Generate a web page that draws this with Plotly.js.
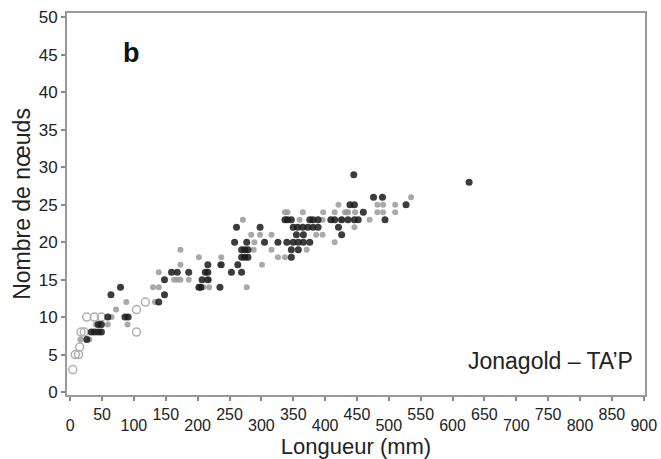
<!DOCTYPE html>
<html>
<head>
<meta charset="utf-8">
<script src="https://cdn.plot.ly/plotly-3.0.1.min.js"></script>
<style>html,body{margin:0;padding:0;background:#fff;}#chart{width:661px;height:459px;}</style>
</head>
<body>
<div id="chart"></div>
<script>
// Dark (dense) points
const darkX = [26,33,38,44,49,44,49,59,86,91,64,79,139,148,148,159,168,186,202,205,207,212,216,216,235,216,237,263,253,269,269,274,279,269,274,279,258,277,305,326,340,350,358,366,376,347,358,347,261,298,350,357,365,373,381,389,421,355,366,426,337,341,347,376,381,389,409,415,426,436,446,452,494,460,439,446,527,476,490,445,626];
const darkY = [7,8,8,8,8,9,9,10,10,10,13,14,12,13,15,16,16,16,14,14,15,16,16,17,14,15,17,17,16,16,18,18,18,19,19,19,20,20,20,20,20,20,20,20,20,19,19,18,22,22,22,22,22,22,22,22,22,21,21,21,23,23,23,23,23,23,23,23,23,23,23,23,23,24,25,25,25,26,26,29,28];
// Light (single) points
const lightX = [16,30,40,59,65,72,88,90,133,130,139,139,173,173,163,168,173,186,202,218,218,235,237,209,277,301,326,337,271,284,298,316,288,316,371,289,415,337,341,365,397,415,431,436,447,482,491,510,421,482,491,510,535,360,396,425,470,446,434,386,396];
const lightY = [7,7,9,9,10,11,12,9,12,14,14,16,19,17,15,15,15,15,18,15,14,17,18,14,14,17,18,18,23,21,21,21,19,19,19,20,20,24,24,24,24,24,24,24,24,24,24,24,25,25,25,25,26,23,23,23,23,22,24,21,21];
// Open circles
const openX = [4,8,13,15,17,22,26,38,49,104,104,118];
const openY = [3,5,5,6,8,8,10,10,10,11,8,12];

const xTicksUpper = [50,150,250,350,450,550,650,750,850];
const xTicksLower = [0,100,200,300,400,500,600,700,800,900];
const yTicks = [0,5,10,15,20,25,30,35,40,45,50];

const panelLabel = "b";
const cornerLabel = "Jonagold – TA’P";
const xTitle = "Longueur (mm)";
const yTitle = "Nombre de nœuds";

const FONT = "Liberation Sans, Arial, sans-serif";
const XR = [-5, 902];

const traces = [
  {x: openX, y: openY, type: "scatter", mode: "markers", xaxis: "x", yaxis: "y",
   marker: {symbol: "circle-open", size: 8, color: "#b0b0b0", line: {width: 1.5, color: "#b0b0b0"}}, hoverinfo: "skip"},
  {x: lightX, y: lightY, type: "scatter", mode: "markers", xaxis: "x", yaxis: "y",
   marker: {symbol: "circle", size: 6, color: "#9a9a9a", opacity: 0.85}, hoverinfo: "skip"},
  {x: darkX, y: darkY, type: "scatter", mode: "markers", xaxis: "x", yaxis: "y",
   marker: {symbol: "circle", size: 7, color: "#1a1a1a", opacity: 0.85}, hoverinfo: "skip"},
  // invisible trace to activate the second x axis (lower tick row)
  {x: [0], y: [0], type: "scatter", mode: "markers", xaxis: "x2", yaxis: "y",
   marker: {opacity: 0}, hoverinfo: "skip", showlegend: false}
];

const layout = {
  width: 661, height: 459,
  margin: {l: 67, r: 16, t: 13, b: 64},
  paper_bgcolor: "#fff", plot_bgcolor: "#fff",
  showlegend: false,
  font: {family: FONT, color: "#222"},
  xaxis: {
    range: XR, showgrid: false, zeroline: false,
    showline: true, mirror: true, linecolor: "#999", linewidth: 2,
    ticks: "outside", ticklen: 4, tickcolor: "#888", tickwidth: 2,
    tickmode: "array",
    tickvals: xTicksLower.concat(xTicksUpper),
    ticktext: xTicksLower.map(() => "").concat(xTicksUpper.map(String)),
    tickfont: {size: 16, family: FONT, color: "#222"},
    title: {text: xTitle, font: {size: 22, family: FONT, color: "#222"}, standoff: 19}
  },
  xaxis2: {
    overlaying: "x", anchor: "y", side: "bottom", range: XR,
    showgrid: false, zeroline: false, showline: false,
    ticks: "outside", ticklen: 4, tickcolor: "rgba(0,0,0,0)",
    tickmode: "array", tickvals: xTicksLower, ticktext: xTicksLower.map(String),
    tickfont: {size: 16, family: FONT, color: "#222"},
    ticklabelstandoff: 12, showticklabels: true
  },
  yaxis: {
    range: [-0.4, 50.6], showgrid: false, zeroline: false,
    showline: true, mirror: true, linecolor: "#999", linewidth: 2,
    ticks: "outside", ticklen: 4, tickcolor: "#888", tickwidth: 2,
    tickmode: "array", tickvals: yTicks, ticktext: yTicks.map(String),
    tickfont: {size: 17, family: FONT, color: "#222"},
    title: {text: yTitle, font: {size: 23, family: FONT, color: "#222"}, standoff: 2}
  },
  annotations: [
    {x: 96, y: 45.2, xref: "x", yref: "y", text: "<b>" + panelLabel + "</b>", showarrow: false,
     font: {size: 27, family: FONT, color: "#111"}, xanchor: "center", yanchor: "middle"},
    {x: 886, y: 4.2, xref: "x", yref: "y", text: cornerLabel, showarrow: false,
     font: {size: 23, family: FONT, color: "#222"}, xanchor: "right", yanchor: "middle"}
  ]
};

Plotly.newPlot("chart", traces, layout, {staticPlot: true, displayModeBar: false});
</script>
</body>
</html>
